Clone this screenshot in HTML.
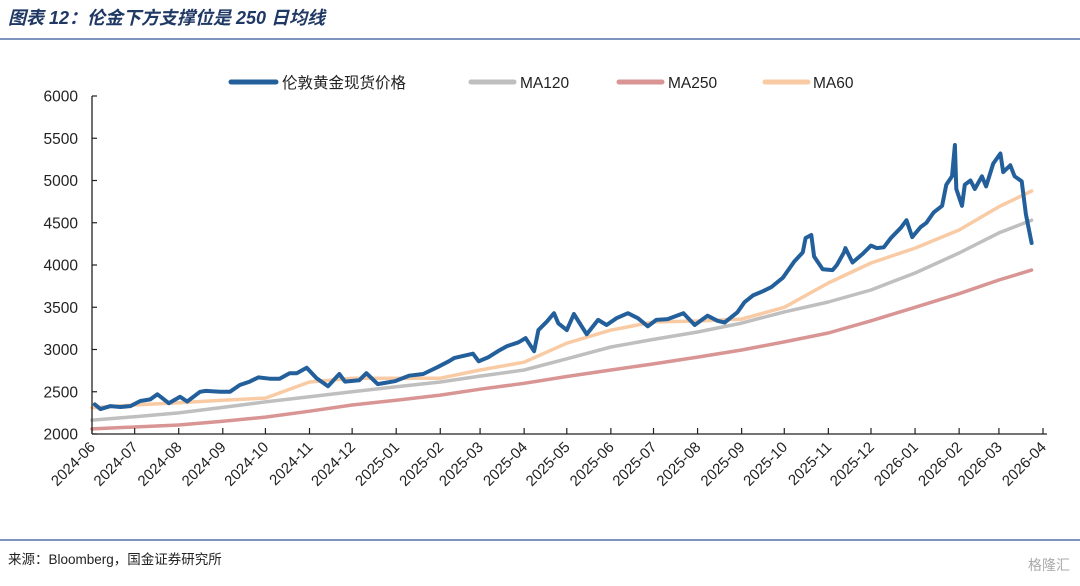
<!DOCTYPE html>
<html><head><meta charset="utf-8"><style>
body{margin:0;background:#fff;width:1080px;height:581px;overflow:hidden;font-family:"Liberation Sans","Noto Sans CJK SC",sans-serif}
</style></head><body>
<svg id="c" width="1080" height="581" xmlns="http://www.w3.org/2000/svg">
<text x="8" y="24" font-size="18" font-weight="bold" font-style="italic" fill="#1f3864" font-family="'Liberation Sans','Noto Sans CJK SC',sans-serif">图表 12：伦金下方支撑位是 250 日均线</text>
<line x1="0" y1="39" x2="1080" y2="39" stroke="#2f5597" stroke-width="1.2"/>
<line x1="0" y1="540" x2="1080" y2="540" stroke="#2f5597" stroke-width="1.2"/>
<text x="8" y="564" font-size="13.5" fill="#222" font-family="'Liberation Sans','Noto Sans CJK SC',sans-serif">来源：Bloomberg，国金证券研究所</text>
<text x="1070" y="570" font-size="14" fill="#aaa" text-anchor="end" font-family="'Liberation Sans','Noto Sans CJK SC',sans-serif">格隆汇</text>
<g id="legend" font-size="15.5" fill="#222" font-family="'Liberation Sans','Noto Sans CJK SC',sans-serif">
<g><line x1="231" y1="82" x2="276" y2="82" stroke="#23609b" stroke-width="5" stroke-linecap="round"/><text x="282" y="88">伦敦黄金现货价格</text></g>
<g><line x1="471" y1="82" x2="514" y2="82" stroke="#bfbfbf" stroke-width="5" stroke-linecap="round"/><text x="520" y="88">MA120</text></g>
<g><line x1="619" y1="82" x2="662" y2="82" stroke="#d99594" stroke-width="5" stroke-linecap="round"/><text x="668" y="88">MA250</text></g>
<g><line x1="765" y1="82" x2="808" y2="82" stroke="#f9cba4" stroke-width="5" stroke-linecap="round"/><text x="813" y="88">MA60</text></g>
</g>
<g id="plot"></g>
</svg>
<script>
const yTicks=[2000,2500,3000,3500,4000,4500,5000,5500,6000];
const xTickLabels=["2024-06","2024-07","2024-08","2024-09","2024-10","2024-11","2024-12","2025-01","2025-02","2025-03","2025-04","2025-05","2025-06","2025-07","2025-08","2025-09","2025-10","2025-11","2025-12","2026-01","2026-02","2026-03","2026-04"];
const goldDates=["2024-06-03","2024-06-07","2024-06-14","2024-06-21","2024-06-28","2024-07-05","2024-07-12","2024-07-17","2024-07-25","2024-08-02","2024-08-07","2024-08-16","2024-08-20","2024-08-30","2024-09-06","2024-09-13","2024-09-20","2024-09-26","2024-10-04","2024-10-11","2024-10-18","2024-10-23","2024-10-30","2024-11-06","2024-11-14","2024-11-22","2024-11-26","2024-12-06","2024-12-11","2024-12-19","2024-12-31","2025-01-10","2025-01-20","2025-01-30","2025-02-07","2025-02-11","2025-02-24","2025-02-28","2025-03-07","2025-03-14","2025-03-20","2025-03-28","2025-04-02","2025-04-08","2025-04-11","2025-04-17","2025-04-22","2025-04-25","2025-05-01","2025-05-06","2025-05-15","2025-05-23","2025-05-29","2025-06-05","2025-06-13","2025-06-20","2025-06-27","2025-07-03","2025-07-11","2025-07-22","2025-07-30","2025-08-08","2025-08-15","2025-08-20","2025-08-29","2025-09-03","2025-09-09","2025-09-16","2025-09-22","2025-09-30","2025-10-08","2025-10-14","2025-10-16","2025-10-20","2025-10-22","2025-10-28","2025-11-04","2025-11-07","2025-11-12","2025-11-13","2025-11-18","2025-11-25","2025-12-01","2025-12-05","2025-12-10","2025-12-15","2025-12-22","2025-12-26","2025-12-30","2026-01-05","2026-01-09","2026-01-14","2026-01-20","2026-01-23","2026-01-27","2026-01-29","2026-01-30","2026-02-03","2026-02-05","2026-02-09","2026-02-12","2026-02-17","2026-02-20","2026-02-25","2026-03-02","2026-03-04","2026-03-09","2026-03-12","2026-03-17","2026-03-20","2026-03-24"];
const goldValues=[2350,2295,2330,2320,2330,2390,2410,2470,2365,2440,2385,2500,2510,2500,2500,2580,2620,2670,2655,2655,2720,2720,2785,2660,2565,2710,2620,2635,2720,2590,2625,2690,2710,2790,2860,2900,2950,2860,2910,2985,3040,3085,3135,2980,3230,3330,3430,3310,3230,3420,3180,3350,3290,3370,3430,3370,3275,3350,3360,3430,3290,3400,3340,3320,3440,3560,3640,3690,3740,3850,4040,4150,4320,4355,4100,3950,3940,4000,4150,4200,4030,4130,4230,4200,4210,4320,4440,4530,4330,4450,4500,4620,4700,4950,5050,5420,4900,4700,4950,5000,4900,5050,4930,5200,5320,5100,5180,5050,4990,4600,4260];
const maDates=["2024-06-01","2024-07-01","2024-08-01","2024-09-01","2024-10-01","2024-11-01","2024-12-01","2025-01-01","2025-02-01","2025-03-01","2025-04-01","2025-05-01","2025-06-01","2025-07-01","2025-08-01","2025-09-01","2025-10-01","2025-11-01","2025-12-01","2026-01-01","2026-02-01","2026-03-01","2026-03-24"];
const ma60Values=[2310,2343,2370,2400,2425,2615,2660,2660,2660,2757,2850,3075,3230,3325,3337,3360,3500,3787,4024,4200,4414,4690,4876];
const ma120Values=[2165,2205,2250,2315,2380,2440,2500,2560,2615,2685,2757,2890,3030,3120,3207,3313,3445,3562,3704,3905,4142,4380,4530];
const ma250Values=[2060,2083,2106,2150,2200,2270,2343,2400,2460,2530,2600,2680,2757,2830,2910,2994,3090,3195,3340,3500,3660,3822,3940];

const NS="http://www.w3.org/2000/svg";
const plot=document.getElementById('plot');
const X0=92,X1=1043,Y0=434,Y1=96;
const d0=Date.UTC(2024,5,1),d1=Date.UTC(2026,3,1);
function xs(s){const p=s.split('-').map(Number);const t=Date.UTC(p[0],p[1]-1,p[2]||1);return X0+(t-d0)/(d1-d0)*(X1-X0);}
function ys(v){return Y0-(v-2000)/4000*(Y0-Y1);}
function mk(tag,attrs){const e=document.createElementNS(NS,tag);for(const k in attrs)e.setAttribute(k,attrs[k]);plot.appendChild(e);return e;}

function series(dates,vals,color,w,name){
  const d=dates.map((s,i)=>(i?'L':'M')+xs(s).toFixed(1)+','+ys(vals[i]).toFixed(1)).join('');
  const p=mk('path',{d:d,fill:'none',stroke:color,'stroke-width':w,'stroke-linejoin':'round','stroke-linecap':'round'});
  
  
}
series(maDates,ma250Values,'#d99594',3.5,'ma250-line');
series(maDates,ma120Values,'#bfbfbf',3.5,'ma120-line');
series(maDates,ma60Values,'#f9cba4',3.5,'ma60-line');
series(goldDates,goldValues,'#23609b',4,'gold-spot-line');

// axes
const ya=mk('line',{x1:X0,y1:Y1,x2:X0,y2:Y0,stroke:'#222','stroke-width':1.3});


const xa=mk('line',{x1:X0,y1:Y0,x2:X1+4,y2:Y0,stroke:'#222','stroke-width':1.3});


yTicks.forEach(v=>{
  const y=ys(v);
  const t=mk('line',{x1:X0,y1:y,x2:X0+5,y2:y,stroke:'#222','stroke-width':1.2});
  
  
  const l=mk('text',{x:78,y:y+5.5,'font-size':15.5,'text-anchor':'end',fill:'#222'});
  l.textContent=v;
  
  
});
xTickLabels.forEach(s=>{
  const x=xs(s);
  const t=mk('line',{x1:x,y1:Y0,x2:x,y2:Y0-6,stroke:'#222','stroke-width':1.2});
  
  
  const l=mk('text',{x:x+4,y:Y0+14,'font-size':15,'text-anchor':'end',fill:'#222',transform:'rotate(-45 '+(x+4)+' '+(Y0+14)+')'});
  l.textContent=s;
  
  
});
</script>
</body></html>
